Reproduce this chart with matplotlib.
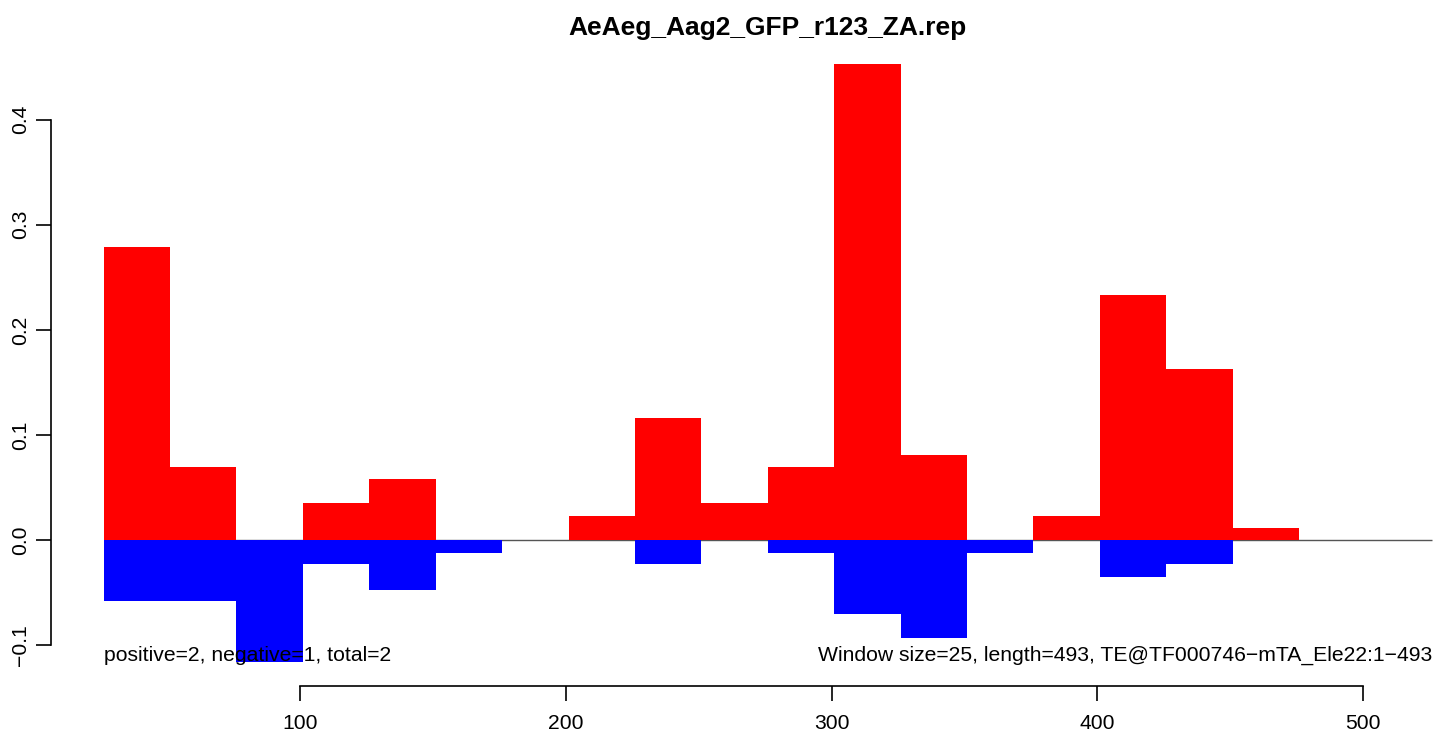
import matplotlib
matplotlib.use("Agg")
import matplotlib.pyplot as plt
import numpy as np

# window start positions (window size 25)
win_start = [26, 51, 76, 101, 126, 151, 176, 201, 226, 251,
             276, 301, 326, 351, 376, 401, 426, 451, 476, 501]
pos_frac = [0.279, 0.070, 0.0, 0.035, 0.058, 0.0, 0.0, 0.023, 0.116, 0.035,
            0.070, 0.453, 0.081, 0.0, 0.023, 0.233, 0.163, 0.012, 0.0, 0.0]
neg_frac = [-0.058, -0.058, -0.116, -0.023, -0.047, -0.012, 0.0, 0.0, -0.023, 0.0,
            -0.012, -0.070, -0.093, -0.012, 0.0, -0.035, -0.023, 0.0, 0.0, 0.0]
win_size = 25
title = "AeAeg_Aag2_GFP_r123_ZA.rep"
left_note = "positive=2, negative=1, total=2"
right_note = "Window size=25, length=493, TE@TF000746\u2212mTA_Ele22:1\u2212493"
xticks = [100, 200, 300, 400, 500]
yticks = [-0.1, 0.0, 0.1, 0.2, 0.3, 0.4]
ylabels = ["\u22120.1", "0.0", "0.1", "0.2", "0.3", "0.4"]

plt.rcParams['font.family'] = ['Liberation Sans', 'DejaVu Sans']
fs = 15.2

W, H = 1439, 736
fig = plt.figure(figsize=(W / 100, H / 100), dpi=100)
# plot region in pixels (R style, runs past the right edge)
px_l, px_r, px_t, px_b = 50.5, 1485.0, 40.0, 686.0
ax = fig.add_axes([px_l / W, 1 - px_b / H, (px_r - px_l) / W, (px_b - px_t) / H])

x0 = win_start[0]
x1 = win_start[-1] + win_size
xr = x1 - x0
ax.set_xlim(x0 - 0.04 * xr, x1 + 0.04 * xr)
ymin, ymax = min(neg_frac), max(pos_frac)
yr = ymax - ymin
ax.set_ylim(ymin - 0.04 * yr, ymax + 0.04 * yr)

ax.hlines(0, x0, x1, color='#555555', linewidth=1, zorder=1)
ax.bar(win_start, pos_frac, width=win_size, align='edge', color='#ff0000',
       linewidth=0, zorder=2)
ax.bar(win_start, neg_frac, width=win_size, align='edge', color='#0000ff',
       linewidth=0, zorder=3)

for s in ['top', 'right']:
    ax.spines[s].set_visible(False)
ax.spines['left'].set_bounds(yticks[0], yticks[-1])
ax.spines['bottom'].set_bounds(xticks[0], xticks[-1])
ax.spines['left'].set_linewidth(1.2)
ax.spines['bottom'].set_linewidth(1.2)

ax.set_yticks(yticks)
ax.set_yticklabels(ylabels, rotation=90, va='center')
ax.set_xticks(xticks)
ax.tick_params(axis='both', direction='out', length=11, width=1.2,
               labelsize=fs, color='black')
ax.tick_params(axis='y', pad=4)
ax.tick_params(axis='x', pad=9)

ax.set_title(title, fontsize=19, fontweight='bold', pad=-3)

ax.text(x0, -0.110, left_note, ha='left', va='center', fontsize=fs, zorder=4)
ax.text(x1, -0.110, right_note, ha='right', va='center', fontsize=fs, zorder=4)

fig.savefig("out.png", dpi=100)
